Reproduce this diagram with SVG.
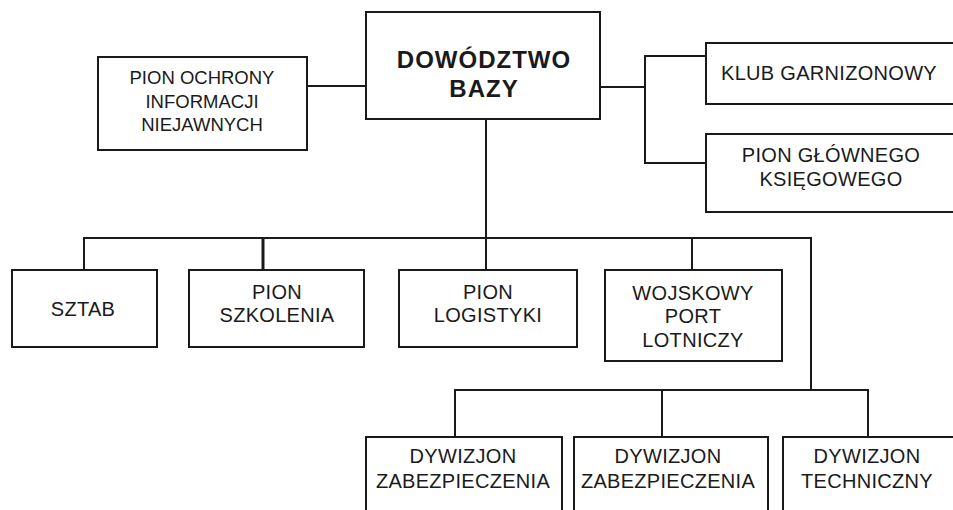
<svg xmlns="http://www.w3.org/2000/svg" width="953" height="510" viewBox="0 0 953 510">
<style>
.box{fill:#fff;stroke:#1a1a1a;stroke-width:2}
.ln{fill:none;stroke:#1a1a1a;stroke-width:2}
.t{font-family:"Liberation Sans",Arial,sans-serif;font-size:20px;fill:#1a1a1a;text-anchor:middle;letter-spacing:0.3px}
.s{font-size:18.5px;letter-spacing:0}
.b{font-weight:bold;font-size:24px;letter-spacing:1px}
</style>
<rect width="953" height="510" fill="#fff"/>
<g id="connectors">
<path class="ln" d="M307 86H366"/>
<path class="ln" d="M600 87H645"/>
<path class="ln" d="M706 56H645V163H706"/>
<path class="ln" d="M486 119V238"/>
<path class="ln" d="M84 270V238H811V390"/>
<path class="ln" d="M263 238V270" style="stroke-width:3"/>
<path class="ln" d="M486 238V270"/>
<path class="ln" d="M692 238V270"/>
<path class="ln" d="M455 437V390H868V437"/>
<path class="ln" d="M662 390V437"/>
</g>
<g id="dowodztwo">
<rect class="box" x="366" y="12" width="234" height="107"/>
<text class="t b" x="484" y="68">DOWÓDZTWO</text>
<text class="t b" x="484" y="97">BAZY</text>
</g>
<g id="pion-ochrony">
<rect class="box" x="98" y="57" width="209" height="93"/>
<text class="t s" x="202" y="84">PION OCHRONY</text>
<text class="t s" x="202" y="108">INFORMACJI</text>
<text class="t s" x="202" y="131">NIEJAWNYCH</text>
</g>
<g id="klub">
<rect class="box" x="706" y="43" width="260" height="61"/>
<text class="t" x="829" y="80">KLUB GARNIZONOWY</text>
</g>
<g id="pion-glownego">
<rect class="box" x="706" y="134" width="260" height="78"/>
<text class="t" x="831" y="162">PION GŁÓWNEGO</text>
<text class="t" x="831" y="186">KSIĘGOWEGO</text>
</g>
<g id="sztab">
<rect class="box" x="12" y="270" width="145" height="77"/>
<text class="t" x="83" y="316">SZTAB</text>
</g>
<g id="pion-szkolenia">
<rect class="box" x="189" y="270" width="175" height="77"/>
<text class="t" x="277" y="299">PION</text>
<text class="t" x="277" y="322">SZKOLENIA</text>
</g>
<g id="pion-logistyki">
<rect class="box" x="399" y="270" width="178" height="77"/>
<text class="t" x="488" y="299">PION</text>
<text class="t" x="488" y="322">LOGISTYKI</text>
</g>
<g id="wojskowy-port">
<rect class="box" x="605" y="270" width="177" height="91"/>
<text class="t" x="693" y="300">WOJSKOWY</text>
<text class="t" x="693" y="323">PORT</text>
<text class="t" x="693" y="347">LOTNICZY</text>
</g>
<g id="dywizjon-zab-1">
<rect class="box" x="366" y="437" width="196" height="90"/>
<text class="t" x="463" y="463">DYWIZJON</text>
<text class="t" x="463" y="488">ZABEZPIECZENIA</text>
</g>
<g id="dywizjon-zab-2">
<rect class="box" x="574" y="437" width="194" height="90"/>
<text class="t" x="668" y="463">DYWIZJON</text>
<text class="t" x="668" y="488">ZABEZPIECZENIA</text>
</g>
<g id="dywizjon-tech">
<rect class="box" x="783" y="437" width="190" height="90"/>
<text class="t" x="867" y="463">DYWIZJON</text>
<text class="t" x="867" y="488">TECHNICZNY</text>
</g>
</svg>
